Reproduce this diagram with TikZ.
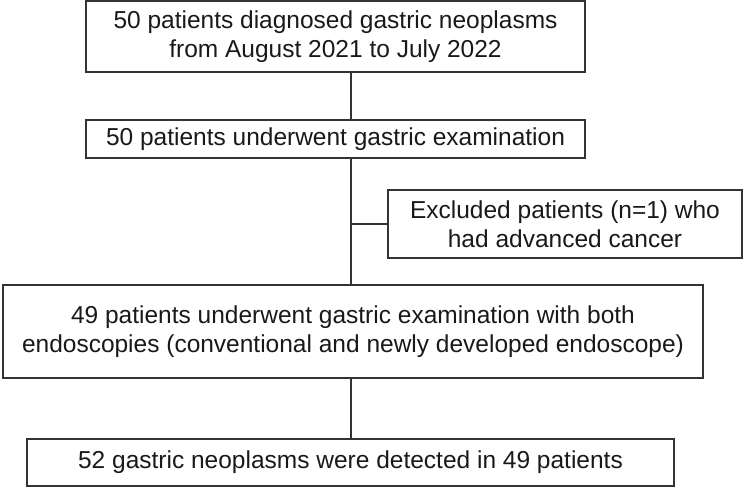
\documentclass[tikz,border=0pt]{standalone}
\usepackage{fontspec}
\setmainfont{Liberation Sans}
\begin{document}
\begin{tikzpicture}[x=1pt,y=-1pt,
  box/.style={draw=black!80, line width=1.6pt, inner sep=0pt, align=center,
    font=\fontsize{24.5}{29.5}\selectfont, text=black!90},
  conn/.style={draw=black!80, line width=1.3pt}]
\useasboundingbox (0,0) rectangle (744,489);
\coordinate (L) at (351,0);
\node[box, minimum width=499pt, minimum height=71pt] (b1) at (335.5,36.5)
  {50 patients diagnosed gastric neoplasms\\from August 2021 to July 2022};
\node[box, minimum width=499pt, minimum height=38pt] (b2) at (335.5,139)
  {50 patients underwent gastric examination};
\node[box, minimum width=354pt, minimum height=68pt] (b3) at (565,224)
  {Excluded patients (n=1) who\\had advanced cancer};
\node[box, minimum width=700pt, minimum height=93pt] (b4) at (353,331.5)
  {49 patients underwent gastric examination with both\\endoscopies (conventional and newly developed endoscope)};
\node[box, minimum width=647pt, minimum height=47pt] (b5) at (350.5,462.5)
  {52 gastric neoplasms were detected in 49 patients};
\draw[conn] (b1.south -| L) -- (b2.north -| L);
\draw[conn] (b2.south -| L) -- (b4.north -| L);
\draw[conn] (b3.west) -- (b3.west -| L);
\draw[conn] (b4.south -| L) -- (b5.north -| L);
\end{tikzpicture}
\end{document}
